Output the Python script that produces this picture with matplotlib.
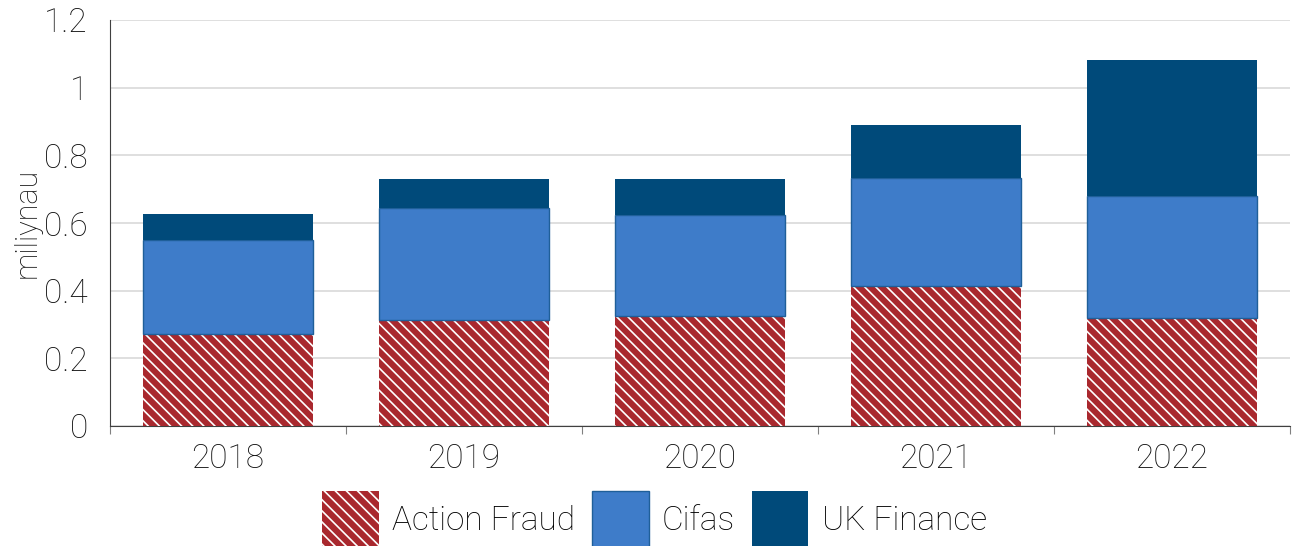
import numpy as np
import matplotlib
matplotlib.use("Agg")
import matplotlib.pyplot as plt
from matplotlib.patches import Patch

# ── Data ──────────────────────────────────────────────────────────────────────
years        = ["2018", "2019", "2020", "2021", "2022"]
action_fraud = [0.272, 0.313, 0.325, 0.414, 0.319]
cifas        = [0.278, 0.331, 0.299, 0.319, 0.361]
uk_finance   = [0.077, 0.086, 0.106, 0.157, 0.402]

RED   = "#A9282E"
BLUE  = "#3E7CC9"
NAVY  = "#004A7A"

plt.rcParams["font.family"] = ["Roboto", "Liberation Sans", "DejaVu Sans"]
plt.rcParams["font.weight"] = "light"
plt.rcParams["axes.labelweight"] = "light"
plt.rcParams["hatch.color"] = "white"
plt.rcParams["hatch.linewidth"] = 1.2

fig = plt.figure(figsize=(12.96, 5.46), dpi=100)
ax = fig.add_axes([110 / 1296, 120 / 546, 1180 / 1296, 406 / 546])

x = np.arange(len(years))
af = np.array(action_fraud)
cf = np.array(cifas)
uk = np.array(uk_finance)
w = 0.72

# stacked bars: Action Fraud (hatched) / Cifas / UK Finance
ax.bar(x, af, w, color=RED, hatch="\\\\\\", edgecolor="white", linewidth=0, zorder=3)
ax.bar(x, cf, w, bottom=af, color=BLUE, edgecolor="#1F5F99", linewidth=1, zorder=3)
ax.bar(x, uk, w, bottom=af + cf, color=NAVY, linewidth=0, zorder=3)

ax.set_xlim(-0.5, len(years) - 0.5)
ax.set_ylim(0, 1.2)
ax.set_yticks([0, 0.2, 0.4, 0.6, 0.8, 1.0, 1.2])
ax.set_yticklabels(["0", "0.2", "0.4", "0.6", "0.8", "1", "1.2"])
ax.yaxis.grid(True, color="#D9D9D9", linewidth=1.2, zorder=0)
ax.set_axisbelow(True)
ax.tick_params(axis="y", length=0, labelsize=24, pad=16, labelcolor="#111111")

ax.set_xticks(x)
ax.set_xticklabels(years)
ax.set_xticks(np.arange(len(years) + 1) - 0.5, minor=True)
ax.tick_params(axis="x", which="major", length=0, labelsize=24, pad=12, labelcolor="#111111")
ax.tick_params(axis="x", which="minor", length=6, width=0.8, color="#808080")

for side in ["top", "right"]:
    ax.spines[side].set_visible(False)
ax.spines["left"].set_color("#404040")
ax.spines["bottom"].set_color("#404040")

ax.set_ylabel("miliynau", fontsize=22, labelpad=2, color="#111111")

handles = [
    Patch(facecolor=RED, hatch="\\\\\\", edgecolor="white", linewidth=0, label="Action Fraud"),
    Patch(facecolor=BLUE, edgecolor="#1F5F99", linewidth=1, label="Cifas"),
    Patch(facecolor=NAVY, linewidth=0, label="UK Finance"),
]
fig.legend(handles=handles, loc="lower center", bbox_to_anchor=(0.505, -0.04), ncol=3,
           frameon=False, fontsize=24, handlelength=1.7, handleheight=2.25,
           handletextpad=0.4, columnspacing=0.5, borderpad=0.1)

fig.savefig("out.png", dpi=100)
